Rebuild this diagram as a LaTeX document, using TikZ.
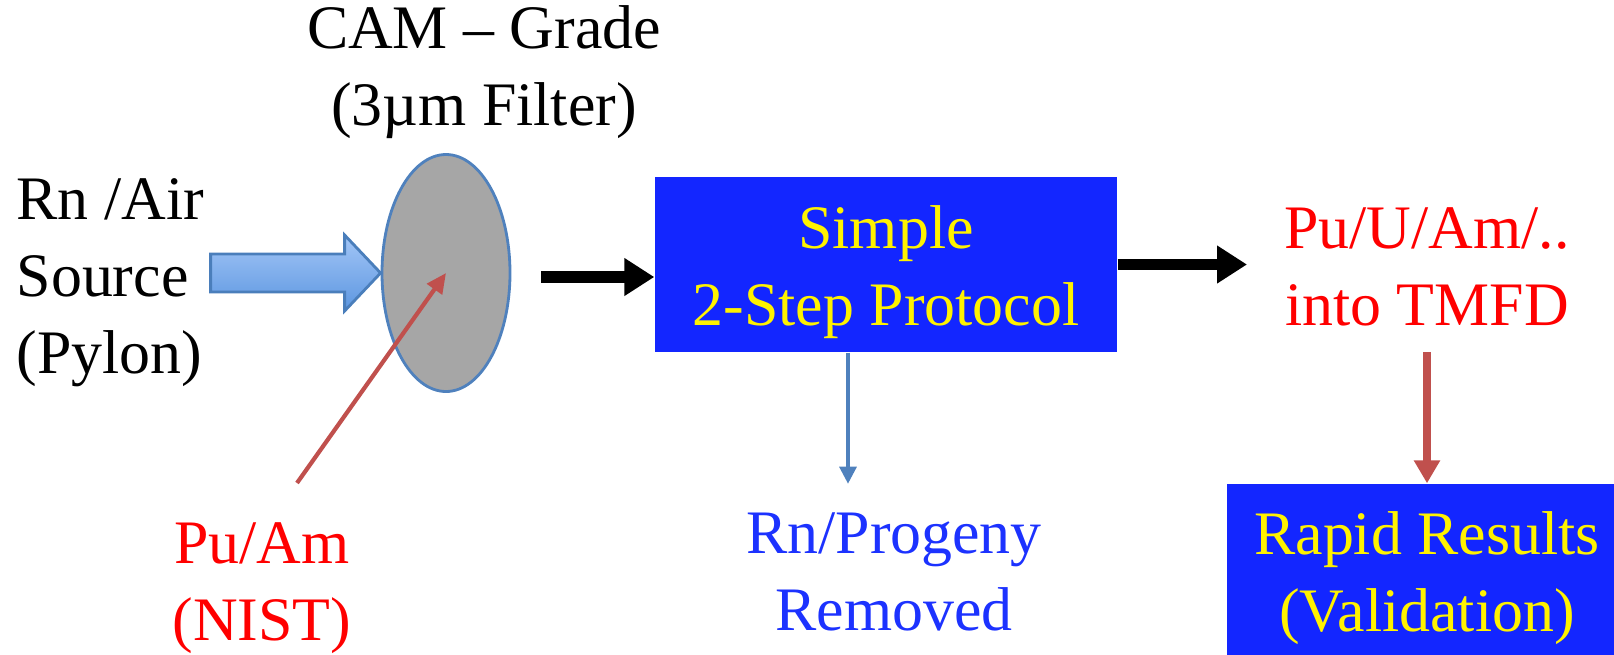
\documentclass[tikz,border=0pt]{standalone}
\usepackage{fontspec}
\setmainfont{Liberation Serif}
\usetikzlibrary{arrows.meta,shapes.geometric}

\definecolor{boxblue}{RGB}{19,38,255}
\definecolor{txtblue}{RGB}{28,50,255}
\definecolor{filtergray}{RGB}{166,166,166}
\definecolor{rimblue}{RGB}{79,129,189}
\definecolor{brick}{RGB}{192,80,77}
\definecolor{flowtop}{RGB}{163,198,247}
\definecolor{flowbot}{RGB}{92,150,224}
\definecolor{flowrim}{RGB}{74,126,187}

\tikzset{
  lbl/.style={align=center, inner sep=0pt, font=\fontsize{17.6}{21.9}\selectfont},
  bluebox/.style={lbl, fill=boxblue, text=yellow},
  fatarrow/.style={line width=3.4pt, -{Triangle[length=0.30cm,width=0.36cm]}},
  ventarrow/.style={draw=rimblue, line width=0.9pt, -{Triangle[length=0.17cm,width=0.17cm]}},
  feedarrow/.style={draw=brick, line width=1.2pt, -{Triangle[length=0.20cm,width=0.18cm]}},
  outarrow/.style={draw=brick, line width=2.3pt, -{Triangle[length=0.23cm,width=0.25cm]}},
  inflow/.style={draw=flowrim, line width=0.8pt, top color=flowtop, bottom color=flowbot},
}

\begin{document}
\begin{tikzpicture}
  \useasboundingbox (0,0) rectangle (16.14,6.54);

  % filter disc and its labels
  \node[ellipse, draw=rimblue, fill=filtergray, line width=0.8pt,
        minimum width=1.28cm, minimum height=2.37cm, inner sep=0pt] (filter) at (4.46,3.81) {};
  \node[lbl, anchor=base] (cam) at (4.84,5.29) {CAM -- Grade\\(3µm Filter)};
  \node[lbl, align=left, anchor=base west] (src) at (0.16,2.81) {Rn /Air\\Source\\(Pylon)};
  \node[lbl, text=red, anchor=base] (nist) at (2.62,0.14) {Pu/Am\\(NIST)};

  % processing chain
  \node[bluebox, minimum width=4.62cm, minimum height=1.75cm] (proto) at (8.86,3.895)
    {\rule{0pt}{0.59cm}Simple\\2-Step Protocol};
  \node[lbl, text=txtblue, anchor=base] (removed) at (8.94,0.24) {Rn/Progeny\\Removed};
  \node[lbl, text=red, anchor=base] (tmfd) at (14.27,3.29) {Pu/U/Am/..\\into TMFD};
  \node[bluebox, minimum width=4.0cm, minimum height=1.88cm] (results) at (14.27,0.76) {Rapid Results\\(Validation)};

  % air flow into the filter
  \draw[inflow] (filter.west) -- ++(-0.36,0.38) -- ++(0,-0.19) -- ++(-1.34,0)
    -- ++(0,-0.38) -- ++(1.34,0) -- ++(0,-0.19) -- cycle;
  \coordinate (nistfeed) at (2.97,1.71);
  \draw[feedarrow] (nistfeed) -- (filter.center);

  \coordinate (gap) at (5.41,3.77);
  \draw[fatarrow] (gap) -- (gap -| proto.west);
  \coordinate (tmfdin) at (12.47,3.895);
  \draw[fatarrow] (proto.east) -- (tmfdin);
  \draw[ventarrow] ([xshift=-3.8mm]proto.south) -- ++(0,-1.31);
  \draw[outarrow] ([yshift=-2.6mm]tmfd.south) -- (results.north);
\end{tikzpicture}
\end{document}
